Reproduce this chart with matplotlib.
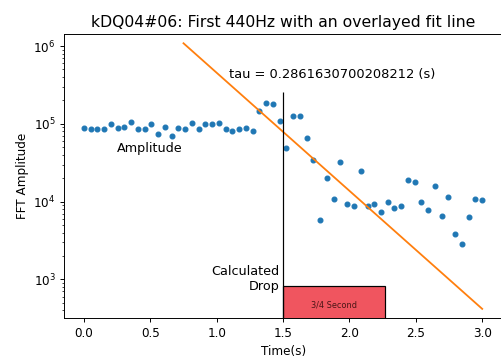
import numpy as np
import matplotlib.pyplot as plt

# Measured FFT amplitude of the 440Hz bin over time (60 frames, 0..3 s)
time_s = [
    0.000, 0.051, 0.102, 0.153, 0.203, 0.254, 0.305, 0.356, 0.407, 0.458,
    0.508, 0.559, 0.610, 0.661, 0.712, 0.763, 0.814, 0.864, 0.915, 0.966,
    1.017, 1.068, 1.119, 1.169, 1.220, 1.271, 1.322, 1.373, 1.424, 1.475,
    1.525, 1.576, 1.627, 1.678, 1.729, 1.780, 1.831, 1.881, 1.932, 1.983,
    2.034, 2.085, 2.136, 2.186, 2.237, 2.288, 2.339, 2.390, 2.441, 2.492,
    2.542, 2.593, 2.644, 2.695, 2.746, 2.797, 2.847, 2.898, 2.949, 3.000,
]
amplitude = [
    88000, 84600, 84600, 84600, 99000, 88000, 91500, 107000, 84600, 84600,
    99000, 75100, 91500, 69400, 88000, 84600, 103000, 84600, 99000, 99000,
    103000, 84600, 81300, 84600, 88000, 81300, 145600, 184500, 177500, 110300,
    48700, 124300, 124300, 66700, 34400, 5800, 20000, 10800, 32100, 9250,
    8900, 24400, 8900, 9250, 7300, 10000, 8220, 8900, 18700, 17900,
    10000, 7900, 15900, 6480, 11300, 3800, 2880, 6290, 10800, 10400,
]

# fitted exponential decay
tau = 0.2861630700208212
fit_start, fit_end = 0.75, 3.0
fit_amp_at_drop = 79000
drop_time = 1.5
drop_length = 0.77

fig = plt.figure(figsize=(5.8, 360 / 86.4), dpi=86.4)
ax = fig.add_axes([64 / 501, 41.7 / 360, 438 / 501, 284.3 / 360])

ax.plot(time_s, amplitude, "o", ms=4, color="#1f77b4")

fit_t = np.linspace(fit_start, fit_end, 50)
ax.plot(fit_t, fit_amp_at_drop * np.exp(-(fit_t - drop_time) / tau),
        color="#ff7f0e", lw=1.5)

ax.set_yscale("log")
ax.set_ylim(10 ** 2.5, 10 ** 6.155)
ax.set_xlim(-0.15, 3.15)

ax.vlines(drop_time, 10 ** 2.5, 2.6e5, color="black", lw=1)
ax.bar(drop_time, 720, width=drop_length, bottom=100, align="edge",
       color="#f0555f", edgecolor="black", lw=1)
ax.text(drop_time + drop_length / 2, 10 ** 2.665, "3/4 Second",
        fontsize=6.8, color="#4a1515", ha="center", va="center")
ax.text(1.475, 10 ** 3.0, "Calculated\nDrop", ha="right", va="center",
        fontsize=10.6, linespacing=1.2)
ax.text(0.495, 10 ** 4.678, "Amplitude", ha="center", va="center",
        fontsize=10.6)
ax.text(1.873, 10 ** 5.64, f"tau = {tau} (s)", ha="center", va="center",
        fontsize=10.8)

ax.set_title("kDQ04#06: First 440Hz with an overlayed fit line", fontsize=13)
ax.set_xlabel("Time(s)")
ax.set_ylabel("FFT Amplitude")

fig.savefig("out.png", dpi=86.4)
